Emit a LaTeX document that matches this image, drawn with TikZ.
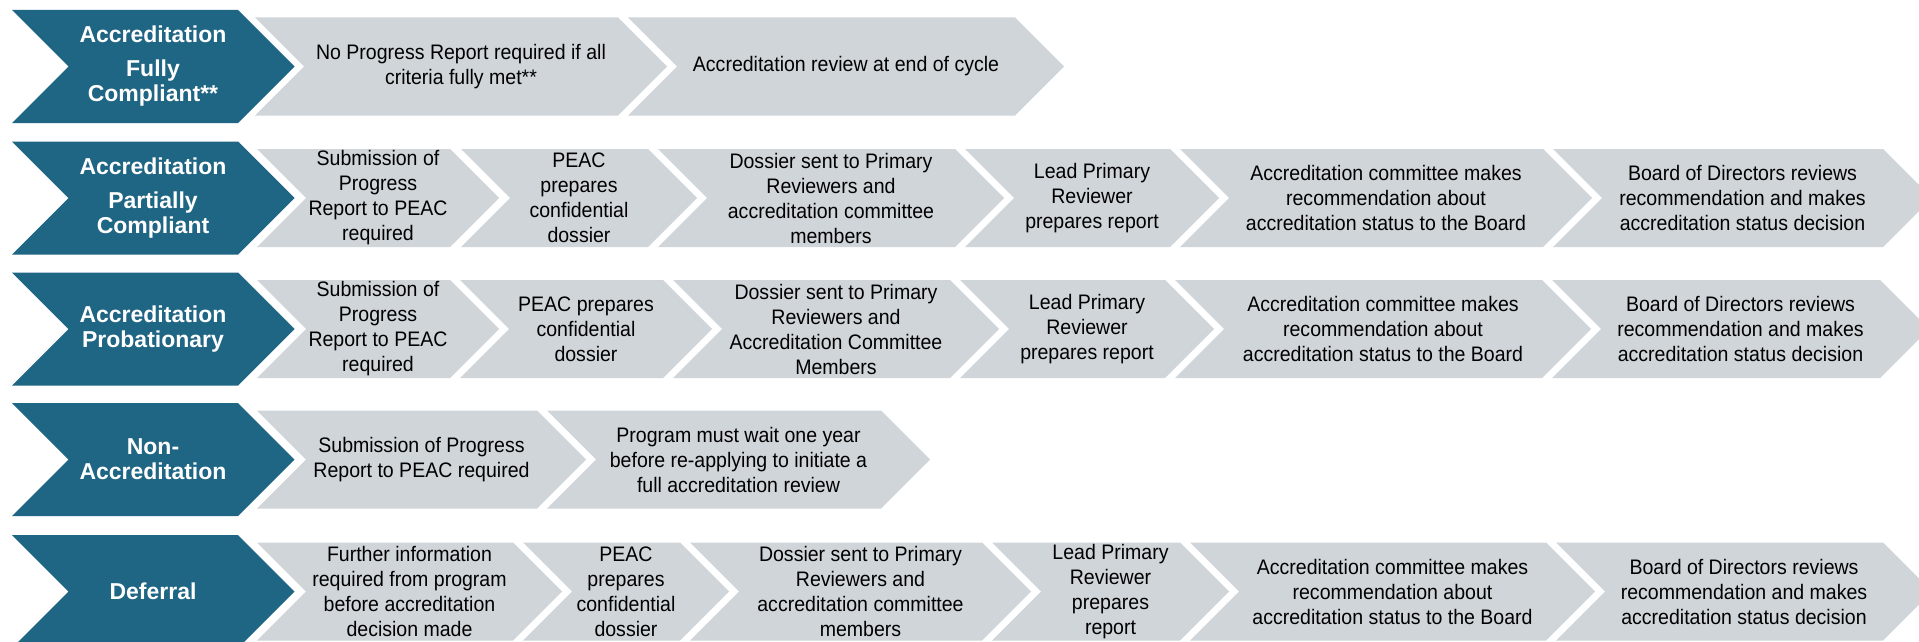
\documentclass[tikz,border=0pt]{standalone}
\usepackage{fontspec}
\setmainfont{Liberation Sans}
\newfontfamily\greyfont[FakeStretch=0.93]{Liberation Sans}
\definecolor{darkteal}{RGB}{31,101,132}
\definecolor{greyfill}{RGB}{208,213,218}
\tikzset{
  darkchev/.style={fill=darkteal},
  greychev/.style={fill=greyfill},
  darklabel/.style={text=white, font=\fontsize{23}{25}\selectfont\bfseries, align=center, inner sep=0pt},
  greylabel/.style={text=black, font=\greyfont\fontsize{21}{25}\selectfont, align=center, inner sep=0pt}
}
\newcommand\darkrow[3]{%
  \fill[darkchev] (12,#2-56.5) -- (238,#2-56.5) -- (294.5,#2) -- (238,#2+56.5) -- (12,#2+56.5) -- (68.5,#2) -- cycle;
  \node[darklabel] (#1) at (153,#2) {#3};
}
\newcommand\greychevron[5]{%
  \fill[greychev] (#2,#4-49) -- (#3,#4-49) -- (#3+49,#4) -- (#3,#4+49) -- (#2,#4+49) -- (#2+49,#4) -- cycle;
  \node[greylabel] (#1) at ({(#2+49+#3)/2},#4) {#5};
}
\begin{document}
\begin{tikzpicture}[x=1pt,y=-1pt]
\useasboundingbox (0,0) rectangle (1919,642);
\fill[white] (0,0) rectangle (1919,642);

% Row 1
\darkrow{d1}{66.5}{Accreditation\\[9pt]Fully\\Compliant**}
\greychevron{a1}{255}{618}{66.5}{No Progress Report required if all\\criteria fully met**}
\greychevron{a2}{628}{1015}{66.5}{Accreditation review at end of cycle}

% Row 2
\darkrow{d2}{198}{Accreditation\\[9pt]Partially\\Compliant}
\greychevron{b1}{257}{450}{198}{Submission of\\Progress\\Report to PEAC\\required}
\greychevron{b2}{461}{648}{198}{PEAC\\prepares\\confidential\\dossier}
\greychevron{b3}{658}{955}{198}{Dossier sent to Primary\\Reviewers and\\accreditation committee\\members}
\greychevron{b4}{965}{1170}{198}{Lead Primary\\Reviewer\\prepares report}
\greychevron{b5}{1180}{1543}{198}{Accreditation committee makes\\recommendation about\\accreditation status to the Board}
\greychevron{b6}{1553}{1883}{198}{Board of Directors reviews\\recommendation and makes\\accreditation status decision}

% Row 3
\darkrow{d3}{329}{Accreditation\\Probationary}
\greychevron{c1}{257}{450}{329}{Submission of\\Progress\\Report to PEAC\\required}
\greychevron{c2}{460}{663}{329}{PEAC prepares\\confidential\\dossier}
\greychevron{c3}{673}{950}{329}{Dossier sent to Primary\\Reviewers and\\Accreditation Committee\\Members}
\greychevron{c4}{960}{1165}{329}{Lead Primary\\Reviewer\\prepares report}
\greychevron{c5}{1175}{1542}{329}{Accreditation committee makes\\recommendation about\\accreditation status to the Board}
\greychevron{c6}{1552}{1880}{329}{Board of Directors reviews\\recommendation and makes\\accreditation status decision}

% Row 4
\darkrow{d4}{459.5}{Non-\\Accreditation}
\greychevron{e1}{257}{537}{459.5}{Submission of Progress\\Report to PEAC required}
\greychevron{e2}{547}{881}{459.5}{Program must wait one year\\before re-applying to initiate a\\full accreditation review}

% Row 5
\darkrow{d5}{591.5}{Deferral}
\greychevron{f1}{257}{513}{591.5}{Further information\\required from program\\before accreditation\\decision made}
\greychevron{f2}{523}{680}{591.5}{PEAC\\prepares\\confidential\\dossier}
\greychevron{f3}{690}{982}{591.5}{Dossier sent to Primary\\Reviewers and\\accreditation committee\\members}
\greychevron{f4}{992}{1180}{591.5}{Lead Primary\\Reviewer\\prepares\\report}
\greychevron{f5}{1190}{1546}{591.5}{Accreditation committee makes\\recommendation about\\accreditation status to the Board}
\greychevron{f6}{1556}{1883}{591.5}{Board of Directors reviews\\recommendation and makes\\accreditation status decision}
\end{tikzpicture}
\end{document}
